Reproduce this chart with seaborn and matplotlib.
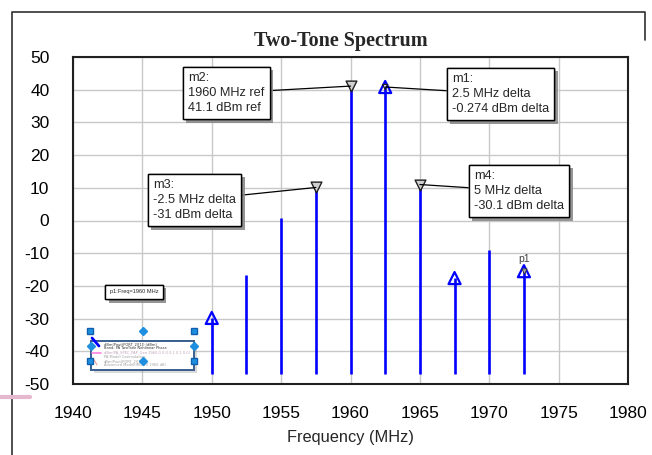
import numpy as np
import pandas as pd
import matplotlib
matplotlib.use("Agg")
import matplotlib.pyplot as plt
import matplotlib.patheffects as pe
from matplotlib.lines import Line2D
from matplotlib.patches import Rectangle
import seaborn as sns

# ---------------- data ----------------
freqs = [1950.0, 1952.5, 1955.0, 1957.5, 1960.0, 1962.5, 1965.0, 1967.5, 1970.0, 1972.5]
power = [-29.8, -16.7, 0.8, 10.1, 41.1, 40.826, 11.0, -17.6, -9.0, -15.5]
stem_floor = -47.0

up_marker_idx = [0, 5, 7, 9]     # blue hollow triangles
down_marker_idx = [3, 4, 6]      # grey marker triangles (m3, m2, m4)

marker_names = ["m2", "m1", "m3", "m4"]
marker_idx = [4, 5, 3, 6]
ref_idx = 4

xticks = [1940, 1945, 1950, 1955, 1960, 1965, 1970, 1975, 1980]
yticks = [-50, -40, -30, -20, -10, 0, 10, 20, 30, 40, 50]

title = "Two-Tone Spectrum"
xlabel = "Frequency (MHz)"

# ---------------- style ----------------
sns.set_style("white")
plt.rcParams["font.family"] = ["Liberation Sans", "DejaVu Sans"]

W, H = 652, 455
fig = plt.figure(figsize=(W / 100, H / 100), dpi=100)
ax = fig.add_axes([73 / W, 1 - 384 / H, 555 / W, 327 / H])

df = pd.DataFrame({"freq": freqs, "power": power})

ax.set_xlim(1940, 1980)
ax.set_ylim(-50, 50)
ax.set_xticks(xticks)
ax.set_yticks(yticks)
ax.set_xticklabels([str(t) for t in xticks])
ax.set_yticklabels([str(t) for t in yticks])
ax.tick_params(axis="both", length=0, labelsize=12.5, colors="black")
ax.tick_params(axis="y", pad=17)
ax.tick_params(axis="x", pad=16)
ax.grid(True, color="#c8c8c8", lw=1.0)
ax.set_axisbelow(True)
for s in ax.spines.values():
    s.set_color("#202020")
    s.set_linewidth(1.5)

# stems
ax.vlines(df["freq"], stem_floor, df["power"], color="#0000ff", lw=1.9, zorder=3)

# markers
up = df.iloc[up_marker_idx]
sns.scatterplot(data=up, x="freq", y="power", ax=ax, marker="^", s=75,
                color="#0000ff", facecolors="none", edgecolor="#0000ff",
                linewidth=1.6, zorder=5)
dn = df.iloc[down_marker_idx]
sns.scatterplot(data=dn, x="freq", y="power", ax=ax, marker="v", s=60,
                color="#d0d0d0", edgecolor="#202020", linewidth=1.0, zorder=5)
m1 = df.iloc[[5]]
sns.scatterplot(data=m1, x="freq", y="power", ax=ax, marker="v", s=14,
                color="none", facecolors="none", edgecolor="#202020", linewidth=0.9, zorder=6)
p1 = df.iloc[[9]]
sns.scatterplot(data=p1, x="freq", y="power", ax=ax, marker="v", s=14,
                color="#aaaaaa", edgecolor="#303030", linewidth=0.6, zorder=6)
ax.annotate("p1", (freqs[9], power[9]), xytext=(0, 5), textcoords="offset points",
            ha="center", va="bottom", fontsize=7.5, color="#404040", zorder=7)

ax.set_xlabel(xlabel, fontsize=11.8, labelpad=6)
ax.set_ylabel("")

fig.text(341 / W, 1 - 41 / H, title, ha="center", va="center", fontsize=14.5,
         fontweight="bold", family=["Liberation Serif", "DejaVu Serif"])

# marker readout boxes (left edge px, centre y px)
box_pos = {"m2": (188, 93), "m1": (452, 94), "m3": (153, 200), "m4": (474, 191)}
shadow = [pe.withSimplePatchShadow(offset=(2.5, -2.5), shadow_rgbFace="#8a8a8a", alpha=0.9),
          pe.Normal()]
fref, pref = freqs[ref_idx], power[ref_idx]
for name, i in zip(marker_names, marker_idx):
    if i == ref_idx:
        txt = f"{name}:\n{freqs[i]:g} MHz ref\n{power[i]:.3g} dBm ref"
    else:
        df_ = freqs[i] - fref
        dp = round(power[i] - pref, 3)
        txt = f"{name}:\n{df_:.3g} MHz delta\n{dp:.3g} dBm delta"
    bx, by = box_pos[name]
    a = ax.annotate(txt, (freqs[i], power[i]), xytext=(bx, H - by),
                    textcoords="figure pixels", ha="left", va="center",
                    fontsize=9.2, linespacing=1.3, zorder=8,
                    bbox=dict(boxstyle="square,pad=0.42", fc="white", ec="black", lw=1.0),
                    arrowprops=dict(arrowstyle="-", color="black", lw=0.9,
                                    shrinkA=0, shrinkB=0))
    a.get_bbox_patch().set_path_effects(shadow)

# small p1 readout box
t = fig.text(134 / W, 1 - 292 / H, "p1:Freq=1960 MHz", ha="center", va="center",
             fontsize=4.1, zorder=8,
             bbox=dict(boxstyle="square,pad=0.8", fc="white", ec="black", lw=1.0))
t.get_bbox_patch().set_path_effects(shadow)

# selected legend block (bottom-left)
def px(x, y):
    return (x / W, 1 - y / H)

x0, y0, x1, y1 = 91, 341, 194, 370
r = Rectangle(px(x0, y1), (x1 - x0) / W, (y1 - y0) / H, transform=fig.transFigure,
              fc="white", ec="#3a6090", lw=1.4, zorder=9)
r.set_path_effects([pe.withSimplePatchShadow(offset=(2, -2), shadow_rgbFace="#888888"), pe.Normal()])
fig.add_artist(r)
tiny = [("dBm(Pout(PORT_2)[1]) (dBm)", "#333333"),
        ("Band: PA TwoTone Nonlinear Phase", "#333333"),
        ("dBm(PA_SPEC_PAP_Gen 1960.0 0.0 0.1 0.1 0.0)", "#c0a0b8"),
        ("PA Model Cosimulation", "#a0a0a0"),
        ("dBm(Pout(PORT_2)[1,1])", "#a0a0a0"),
        ("Advanced Model(HB)(20 1960 dB)", "#a0a0a0")]
for k, (s_, c_) in enumerate(tiny):
    fig.text(*px(104, 344 + k * 4.3), s_, fontsize=2.6, color=c_, va="center",
             ha="left", zorder=10, family=["DejaVu Sans"])
fig.add_artist(Line2D([92 / W, 101 / W], [1 - 353 / H] * 2, color="#ff80e0", lw=1.2,
                      transform=fig.transFigure, zorder=10))
fig.add_artist(Line2D([93 / W, 97 / W], [1 - 358 / H, 1 - 365 / H], color="#f0a0a0", lw=0.8,
                      transform=fig.transFigure, zorder=10))
fig.add_artist(Line2D([92 / W, 99 / W], [1 - 338 / H, 1 - 346 / H], color="#0000ff", lw=2,
                      transform=fig.transFigure, zorder=11))
for (hx, hy) in [(90, 331), (194, 331), (90, 361), (194, 361)]:
    fig.add_artist(Line2D([hx / W], [1 - hy / H], marker="s", ms=4.5, color="#1e8fe0",
                          mec="#1060b0", transform=fig.transFigure, zorder=12))
for (hx, hy) in [(143, 331), (91, 346), (194, 346), (143, 361)]:
    fig.add_artist(Line2D([hx / W], [1 - hy / H], marker="D", ms=3.8, color="#1e8fe0",
                          mec="#1e8fe0", transform=fig.transFigure, zorder=12))

# outer frame & side mark
fig.add_artist(Line2D([12 / W, 12 / W, 645 / W, 645 / W], [0, 1 - 12 / H, 1 - 12 / H, 1 - 40 / H],
                      color="#303030", lw=1.2, transform=fig.transFigure))
fig.add_artist(Line2D([0, 30 / W], [1 - 397 / H] * 2, color="#e6b8cf", lw=3,
                      transform=fig.transFigure))

fig.savefig("out.png", dpi=100)
